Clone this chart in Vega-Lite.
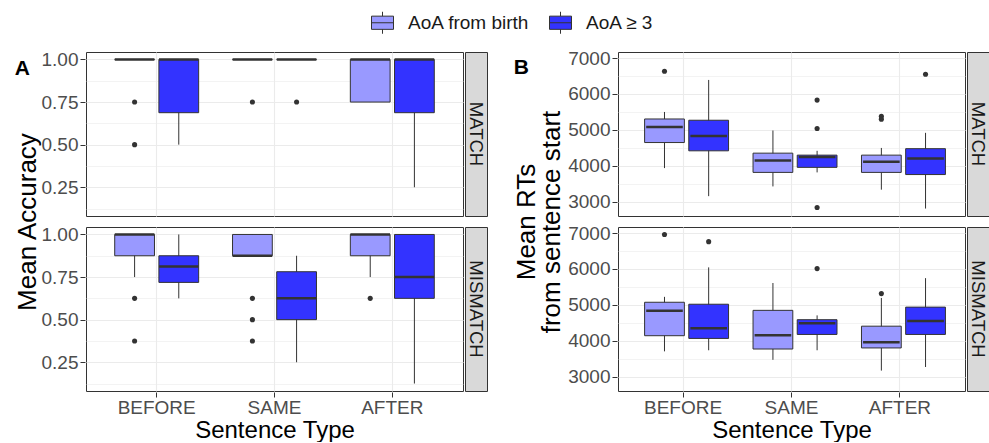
{
  "$schema": "https://vega.github.io/schema/vega-lite/v6.json",
  "background": "white",
  "padding": {"left": 14, "top": 11, "right": 0, "bottom": 0},
  "config": {
    "font": "Liberation Sans",
    "view": {"stroke": "#333333", "strokeWidth": 1},
    "axis": {"domain": false, "labelFontSize": 19, "labelColor": "#4d4d4d", "tickColor": "#333333", "tickSize": 5, "labelPadding": 2, "titleFontSize": 24, "titleFontWeight": "normal", "titleColor": "#000000", "gridColor": "#ebebeb"},
    "header": {"titleFontSize": 26, "titleFontWeight": "normal", "titleColor": "#000000", "titleLineHeight": 25},
    "title": {"fontSize": 21, "fontWeight": "bold", "color": "#000000"}
  },
  "datasets": {
    "acc": [
      {"cond":"MATCH","type":"BEFORE","grp":"AoA from birth","kind":"box","lo":1,"q1":1,"med":1,"q3":1,"hi":1},
      {"cond":"MATCH","type":"BEFORE","grp":"AoA ≥ 3","kind":"box","lo":0.5,"q1":0.6875,"med":1,"q3":1,"hi":1},
      {"cond":"MATCH","type":"SAME","grp":"AoA from birth","kind":"box","lo":1,"q1":1,"med":1,"q3":1,"hi":1},
      {"cond":"MATCH","type":"SAME","grp":"AoA ≥ 3","kind":"box","lo":1,"q1":1,"med":1,"q3":1,"hi":1},
      {"cond":"MATCH","type":"AFTER","grp":"AoA from birth","kind":"box","lo":0.75,"q1":0.75,"med":1,"q3":1,"hi":1},
      {"cond":"MATCH","type":"AFTER","grp":"AoA ≥ 3","kind":"box","lo":0.25,"q1":0.6875,"med":1,"q3":1,"hi":1},
      {"cond":"MISMATCH","type":"BEFORE","grp":"AoA from birth","kind":"box","lo":0.75,"q1":0.875,"med":1,"q3":1,"hi":1},
      {"cond":"MISMATCH","type":"BEFORE","grp":"AoA ≥ 3","kind":"box","lo":0.625,"q1":0.71875,"med":0.8125,"q3":0.875,"hi":1},
      {"cond":"MISMATCH","type":"SAME","grp":"AoA from birth","kind":"box","lo":0.875,"q1":0.875,"med":0.875,"q3":1,"hi":1},
      {"cond":"MISMATCH","type":"SAME","grp":"AoA ≥ 3","kind":"box","lo":0.25,"q1":0.5,"med":0.625,"q3":0.78125,"hi":0.875},
      {"cond":"MISMATCH","type":"AFTER","grp":"AoA from birth","kind":"box","lo":0.75,"q1":0.875,"med":1,"q3":1,"hi":1},
      {"cond":"MISMATCH","type":"AFTER","grp":"AoA ≥ 3","kind":"box","lo":0.125,"q1":0.625,"med":0.75,"q3":1,"hi":1},
      {"cond":"MATCH","type":"BEFORE","grp":"AoA from birth","kind":"out","v":0.75},
      {"cond":"MATCH","type":"BEFORE","grp":"AoA from birth","kind":"out","v":0.5},
      {"cond":"MATCH","type":"SAME","grp":"AoA from birth","kind":"out","v":0.75},
      {"cond":"MATCH","type":"SAME","grp":"AoA ≥ 3","kind":"out","v":0.75},
      {"cond":"MISMATCH","type":"BEFORE","grp":"AoA from birth","kind":"out","v":0.625},
      {"cond":"MISMATCH","type":"BEFORE","grp":"AoA from birth","kind":"out","v":0.375},
      {"cond":"MISMATCH","type":"SAME","grp":"AoA from birth","kind":"out","v":0.625},
      {"cond":"MISMATCH","type":"SAME","grp":"AoA from birth","kind":"out","v":0.5},
      {"cond":"MISMATCH","type":"SAME","grp":"AoA from birth","kind":"out","v":0.375},
      {"cond":"MISMATCH","type":"AFTER","grp":"AoA from birth","kind":"out","v":0.625}
    ],
    "rt": [
      {"cond":"MATCH","type":"BEFORE","grp":"AoA from birth","kind":"box","lo":3940,"q1":4650,"med":5085,"q3":5305,"hi":5500},
      {"cond":"MATCH","type":"BEFORE","grp":"AoA ≥ 3","kind":"box","lo":3160,"q1":4420,"med":4830,"q3":5270,"hi":6390},
      {"cond":"MATCH","type":"SAME","grp":"AoA from birth","kind":"box","lo":3430,"q1":3820,"med":4150,"q3":4355,"hi":4985},
      {"cond":"MATCH","type":"SAME","grp":"AoA ≥ 3","kind":"box","lo":3820,"q1":3960,"med":4245,"q3":4300,"hi":4420},
      {"cond":"MATCH","type":"AFTER","grp":"AoA from birth","kind":"box","lo":3340,"q1":3820,"med":4115,"q3":4300,"hi":4500},
      {"cond":"MATCH","type":"AFTER","grp":"AoA ≥ 3","kind":"box","lo":2815,"q1":3760,"med":4205,"q3":4480,"hi":4920},
      {"cond":"MISMATCH","type":"BEFORE","grp":"AoA from birth","kind":"box","lo":3710,"q1":4145,"med":4840,"q3":5075,"hi":5225},
      {"cond":"MISMATCH","type":"BEFORE","grp":"AoA ≥ 3","kind":"box","lo":3740,"q1":4070,"med":4355,"q3":5020,"hi":6045},
      {"cond":"MISMATCH","type":"SAME","grp":"AoA from birth","kind":"box","lo":3475,"q1":3775,"med":4160,"q3":4850,"hi":5610},
      {"cond":"MISMATCH","type":"SAME","grp":"AoA ≥ 3","kind":"box","lo":3740,"q1":4180,"med":4490,"q3":4590,"hi":4710},
      {"cond":"MISMATCH","type":"AFTER","grp":"AoA from birth","kind":"box","lo":3175,"q1":3805,"med":3960,"q3":4410,"hi":5195},
      {"cond":"MISMATCH","type":"AFTER","grp":"AoA ≥ 3","kind":"box","lo":3275,"q1":4180,"med":4555,"q3":4940,"hi":5745},
      {"cond":"MATCH","type":"BEFORE","grp":"AoA from birth","kind":"out","v":6630},
      {"cond":"MATCH","type":"SAME","grp":"AoA ≥ 3","kind":"out","v":5830},
      {"cond":"MATCH","type":"SAME","grp":"AoA ≥ 3","kind":"out","v":5040},
      {"cond":"MATCH","type":"SAME","grp":"AoA ≥ 3","kind":"out","v":2845},
      {"cond":"MATCH","type":"AFTER","grp":"AoA from birth","kind":"out","v":5380},
      {"cond":"MATCH","type":"AFTER","grp":"AoA from birth","kind":"out","v":5300},
      {"cond":"MATCH","type":"AFTER","grp":"AoA ≥ 3","kind":"out","v":6550},
      {"cond":"MISMATCH","type":"BEFORE","grp":"AoA from birth","kind":"out","v":6960},
      {"cond":"MISMATCH","type":"BEFORE","grp":"AoA ≥ 3","kind":"out","v":6760},
      {"cond":"MISMATCH","type":"SAME","grp":"AoA ≥ 3","kind":"out","v":6010},
      {"cond":"MISMATCH","type":"AFTER","grp":"AoA from birth","kind":"out","v":5315}
    ],
    "strips": [{"cond":"MATCH"},{"cond":"MISMATCH"}]
  },
  "spacing": 25,
  "hconcat": [
    {
      "title": {"text": "A", "orient": "left", "anchor": "end", "angle": 0, "baseline": "top", "align": "left", "offset": -15, "dy": 8},
      "spacing": 0,
      "hconcat": [
        {
          "data": {"name": "acc"},
          "facet": {"row": {"field": "cond", "type": "nominal", "sort": ["MATCH","MISMATCH"], "title": "Mean Accuracy", "header": {"labels": false, "titlePadding": -10}}},
          "spacing": {"row": 9},
          "spec": {
            "width": 377, "height": 164,
            "encoding": {
              "x": {"field": "type", "type": "nominal", "sort": ["BEFORE","SAME","AFTER"], "title": "Sentence Type", "scale": {"paddingInner": 0.25, "paddingOuter": 0.225}, "axis": {"labelAngle": 0, "grid": true, "bandPosition": 0.5, "gridWidth": 1.1, "titlePadding": 1, "labelPadding": 1}},
              "xOffset": {"field": "grp", "type": "nominal", "sort": ["AoA from birth","AoA ≥ 3"], "scale": {"paddingInner": 0.1, "paddingOuter": 0.05}}
            },
            "layer": [
              {
                "transform": [{"filter": "datum.kind === 'box'"}],
                "mark": {"type": "rule", "color": "#333333", "strokeWidth": 1},
                "encoding": {
                  "y": {"field": "lo", "type": "quantitative", "title": null, "scale": {"domain": [0.08125, 1.04375], "nice": false, "zero": false},
                    "axis": {"values": [0.125,0.25,0.375,0.5,0.625,0.75,0.875,1], "labelExpr": "(datum.value*8) % 2 == 1 ? '' : format(datum.value, '.2f')", "gridWidth": {"condition": {"test": "(datum.value*8) % 2 == 1", "value": 0.6}, "value": 1.1}, "tickOpacity": {"condition": {"test": "(datum.value*8) % 2 == 1", "value": 0}, "value": 1}}},
                  "y2": {"field": "hi"}
                }
              },
              {
                "transform": [{"filter": "datum.kind === 'box'"}],
                "mark": {"type": "bar", "stroke": "#333333", "strokeWidth": 1},
                "encoding": {
                  "y": {"field": "q1", "type": "quantitative", "title": null, "scale": {"domain": [0.08125, 1.04375], "nice": false, "zero": false},
                    "axis": {"values": [0.125,0.25,0.375,0.5,0.625,0.75,0.875,1], "labelExpr": "(datum.value*8) % 2 == 1 ? '' : format(datum.value, '.2f')", "gridWidth": {"condition": {"test": "(datum.value*8) % 2 == 1", "value": 0.6}, "value": 1.1}, "tickOpacity": {"condition": {"test": "(datum.value*8) % 2 == 1", "value": 0}, "value": 1}}},
                  "y2": {"field": "q3"},
                  "fill": {"field": "grp", "type": "nominal", "sort": ["AoA from birth","AoA ≥ 3"], "scale": {"domain": ["AoA from birth","AoA ≥ 3"], "range": ["#9999FF","#3333FF"]},
                    "legend": {"title": null, "orient": "none", "legendX": 285, "legendY": -41, "direction": "horizontal", "symbolType": "M-1,-0.6H1V0.6H-1Z M-1,0H1 M0,-0.6V-1 M0,0.6V1", "symbolSize": 484, "symbolStrokeColor": "#333333", "symbolStrokeWidth": 1, "labelFontSize": 19, "labelColor": "#1a1a1a", "columnPadding": 17, "labelOffset": 14}}
                }
              },
              {
                "transform": [{"filter": "datum.kind === 'box'"}],
                "mark": {"type": "tick", "color": "#333333", "thickness": 2.5, "size": 39.6, "orient": "horizontal", "opacity": 1},
                "encoding": {
                  "y": {"field": "med", "type": "quantitative", "title": null, "scale": {"domain": [0.08125, 1.04375], "nice": false, "zero": false},
                    "axis": {"values": [0.125,0.25,0.375,0.5,0.625,0.75,0.875,1], "labelExpr": "(datum.value*8) % 2 == 1 ? '' : format(datum.value, '.2f')", "gridWidth": {"condition": {"test": "(datum.value*8) % 2 == 1", "value": 0.6}, "value": 1.1}, "tickOpacity": {"condition": {"test": "(datum.value*8) % 2 == 1", "value": 0}, "value": 1}}}
                }
              },
              {
                "transform": [{"filter": "datum.kind === 'out'"}],
                "mark": {"type": "point", "filled": true, "color": "#333333", "size": 26, "opacity": 1},
                "encoding": {
                  "y": {"field": "v", "type": "quantitative", "title": null, "scale": {"domain": [0.08125, 1.04375], "nice": false, "zero": false},
                    "axis": {"values": [0.125,0.25,0.375,0.5,0.625,0.75,0.875,1], "labelExpr": "(datum.value*8) % 2 == 1 ? '' : format(datum.value, '.2f')", "gridWidth": {"condition": {"test": "(datum.value*8) % 2 == 1", "value": 0.6}, "value": 1.1}, "tickOpacity": {"condition": {"test": "(datum.value*8) % 2 == 1", "value": 0}, "value": 1}}}
                }
              }
            ]
          }
        },
        {
          "data": {"name": "strips"},
          "facet": {"row": {"field": "cond", "type": "nominal", "sort": ["MATCH","MISMATCH"], "title": null, "header": {"labels": false, "title": null}}},
          "spacing": {"row": 9},
          "spec": {
            "width": 22, "height": 164,
            "view": {"fill": "#d9d9d9", "stroke": "#333333"},
            "mark": {"type": "text", "angle": 90, "fontSize": 18.5, "color": "#1a1a1a"},
            "encoding": {"text": {"field": "cond"}}
          }
        }
      ]
    },
    {
      "title": {"text": "B", "orient": "left", "anchor": "end", "angle": 0, "baseline": "top", "align": "left", "offset": -15, "dy": 8},
      "spacing": 0,
      "hconcat": [
        {
          "data": {"name": "rt"},
          "facet": {"row": {"field": "cond", "type": "nominal", "sort": ["MATCH","MISMATCH"], "title": ["Mean RTs", "from sentence start"], "header": {"labels": false, "titlePadding": -8}}},
          "spacing": {"row": 9},
          "spec": {
            "width": 347, "height": 164,
            "encoding": {
              "x": {"field": "type", "type": "nominal", "sort": ["BEFORE","SAME","AFTER"], "title": "Sentence Type", "scale": {"paddingInner": 0.25, "paddingOuter": 0.225}, "axis": {"labelAngle": 0, "grid": true, "bandPosition": 0.5, "gridWidth": 1.1, "titlePadding": 1, "labelPadding": 1}},
              "xOffset": {"field": "grp", "type": "nominal", "sort": ["AoA from birth","AoA ≥ 3"], "scale": {"paddingInner": 0.1, "paddingOuter": 0.05}}
            },
            "layer": [
              {
                "transform": [{"filter": "datum.kind === 'box'"}],
                "mark": {"type": "rule", "color": "#333333", "strokeWidth": 1},
                "encoding": {
                  "y": {"field": "lo", "type": "quantitative", "title": null, "scale": {"domain": [2608, 7167], "nice": false, "zero": false},
                    "axis": {"values": [3000,3500,4000,4500,5000,5500,6000,6500,7000], "labelExpr": "datum.value % 1000 == 500 ? '' : format(datum.value, 'd')", "gridWidth": {"condition": {"test": "datum.value % 1000 == 500", "value": 0.6}, "value": 1.1}, "tickOpacity": {"condition": {"test": "datum.value % 1000 == 500", "value": 0}, "value": 1}}},
                  "y2": {"field": "hi"}
                }
              },
              {
                "transform": [{"filter": "datum.kind === 'box'"}],
                "mark": {"type": "bar", "stroke": "#333333", "strokeWidth": 1},
                "encoding": {
                  "y": {"field": "q1", "type": "quantitative", "title": null, "scale": {"domain": [2608, 7167], "nice": false, "zero": false},
                    "axis": {"values": [3000,3500,4000,4500,5000,5500,6000,6500,7000], "labelExpr": "datum.value % 1000 == 500 ? '' : format(datum.value, 'd')", "gridWidth": {"condition": {"test": "datum.value % 1000 == 500", "value": 0.6}, "value": 1.1}, "tickOpacity": {"condition": {"test": "datum.value % 1000 == 500", "value": 0}, "value": 1}}},
                  "y2": {"field": "q3"},
                  "fill": {"field": "grp", "type": "nominal", "sort": ["AoA from birth","AoA ≥ 3"], "scale": {"domain": ["AoA from birth","AoA ≥ 3"], "range": ["#9999FF","#3333FF"]},
                    "legend": {"title": null, "orient": "none", "legendX": 285, "legendY": -41, "direction": "horizontal", "symbolType": "M-1,-0.6H1V0.6H-1Z M-1,0H1 M0,-0.6V-1 M0,0.6V1", "symbolSize": 484, "symbolStrokeColor": "#333333", "symbolStrokeWidth": 1, "labelFontSize": 19, "labelColor": "#1a1a1a", "columnPadding": 17, "labelOffset": 14}}
                }
              },
              {
                "transform": [{"filter": "datum.kind === 'box'"}],
                "mark": {"type": "tick", "color": "#333333", "thickness": 2.5, "size": 36.6, "orient": "horizontal", "opacity": 1},
                "encoding": {
                  "y": {"field": "med", "type": "quantitative", "title": null, "scale": {"domain": [2608, 7167], "nice": false, "zero": false},
                    "axis": {"values": [3000,3500,4000,4500,5000,5500,6000,6500,7000], "labelExpr": "datum.value % 1000 == 500 ? '' : format(datum.value, 'd')", "gridWidth": {"condition": {"test": "datum.value % 1000 == 500", "value": 0.6}, "value": 1.1}, "tickOpacity": {"condition": {"test": "datum.value % 1000 == 500", "value": 0}, "value": 1}}}
                }
              },
              {
                "transform": [{"filter": "datum.kind === 'out'"}],
                "mark": {"type": "point", "filled": true, "color": "#333333", "size": 26, "opacity": 1},
                "encoding": {
                  "y": {"field": "v", "type": "quantitative", "title": null, "scale": {"domain": [2608, 7167], "nice": false, "zero": false},
                    "axis": {"values": [3000,3500,4000,4500,5000,5500,6000,6500,7000], "labelExpr": "datum.value % 1000 == 500 ? '' : format(datum.value, 'd')", "gridWidth": {"condition": {"test": "datum.value % 1000 == 500", "value": 0.6}, "value": 1.1}, "tickOpacity": {"condition": {"test": "datum.value % 1000 == 500", "value": 0}, "value": 1}}}
                }
              }
            ]
          }
        },
        {
          "data": {"name": "strips"},
          "facet": {"row": {"field": "cond", "type": "nominal", "sort": ["MATCH","MISMATCH"], "title": null, "header": {"labels": false, "title": null}}},
          "spacing": {"row": 9},
          "spec": {
            "width": 22, "height": 164,
            "view": {"fill": "#d9d9d9", "stroke": "#333333"},
            "mark": {"type": "text", "angle": 90, "fontSize": 18.5, "color": "#1a1a1a"},
            "encoding": {"text": {"field": "cond"}}
          }
        }
      ]
    }
  ]
}
